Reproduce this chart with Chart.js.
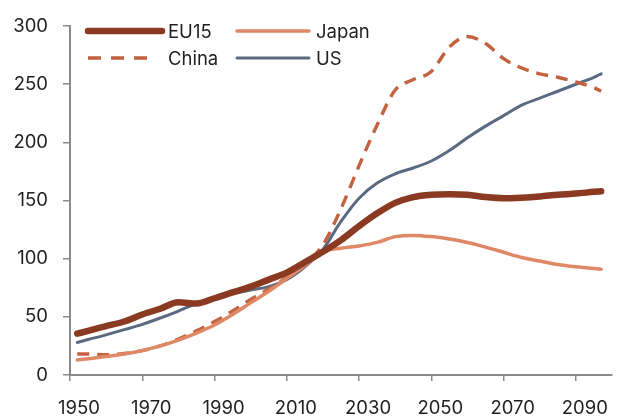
<!DOCTYPE html>
<html>
<head>
<meta charset="utf-8">
<script src="https://cdn.jsdelivr.net/npm/chart.js@4/dist/chart.umd.min.js"></script>
<style>
  html, body { margin: 0; padding: 0; background: #ffffff; }
  #wrap { width: 630px; height: 420px; position: relative; }
</style>
</head>
<body>
<div id="wrap"><canvas id="c" width="630" height="420"></canvas></div>
<script>
const years = [1952, 1955, 1960, 1965, 1970, 1975, 1980, 1985, 1990, 1995, 2000, 2005, 2010, 2015, 2020, 2025, 2030, 2035, 2040, 2045, 2050, 2055, 2060, 2065, 2070, 2075, 2080, 2085, 2090, 2095, 2097];
const eu15  = [35.5, 38, 42, 46, 52, 57, 62.5, 61.5, 66, 71, 76, 82, 88, 97, 106, 116, 128, 139, 148, 153, 155, 155.5, 155, 153, 152, 152.5, 153.5, 155, 156, 157.5, 158];
const japan = [13, 14, 16, 18, 21, 25, 30, 36, 43, 52, 62, 72, 83, 94, 106, 109, 111, 114, 119, 120, 119, 117, 114, 110, 105.5, 101, 98, 95, 93, 91.5, 91];
const china = [18, 18, 17.5, 18.5, 21, 25, 31, 38, 46, 55, 65, 74, 84, 95, 112, 143, 180, 215, 245, 254, 261, 282, 291, 285, 272, 264, 259, 256, 252, 247, 244];
const us    = [28, 30.5, 34.5, 39, 43.5, 49, 55, 61.5, 66, 70, 73, 76, 82, 93, 108, 132, 152, 165, 173, 178, 184, 193, 204, 214, 223, 232, 238, 244, 250, 256, 259];
const seriesNames = ['EU15', 'Japan', 'China', 'US'];
const xTicks = [1950, 1970, 1990, 2010, 2030, 2050, 2070, 2090];
const yTicks = [0, 50, 100, 150, 200, 250, 300];

const pts = arr => years.map((y, i) => ({ x: y, y: arr[i] }));
const FONT = "Inter, 'Open Sans', 'DejaVu Sans', sans-serif";
const AXIS = '#8a8a8a';
const FSIZE = 18.5;

const legendPlugin = {
  id: 'insideLegend',
  afterDraw(chart) {
    const ctx = chart.ctx;
    const slots = [
      { x1: 88, x2: 162, y: 31, tx: 168 },
      { x1: 237, x2: 309, y: 31, tx: 316 },
      { x1: 88, x2: 148, y: 58, tx: 168 },
      { x1: 237, x2: 309, y: 58, tx: 316 }
    ];
    chart.data.datasets.forEach((ds, i) => {
      const s = slots[i];
      ctx.save();
      ctx.strokeStyle = ds.borderColor;
      ctx.lineWidth = ds.borderWidth;
      ctx.lineCap = ds.borderDash ? 'butt' : 'round';
      ctx.setLineDash(ds.borderDash ? [13, 10] : []);
      ctx.beginPath();
      ctx.moveTo(s.x1, s.y);
      ctx.lineTo(s.x2, s.y);
      ctx.stroke();
      ctx.setLineDash([]);
      ctx.fillStyle = '#1f1f1f';
      ctx.font = FSIZE + 'px ' + FONT;
      ctx.textAlign = 'left';
      ctx.textBaseline = 'middle';
      ctx.fillText(ds.label, s.tx, s.y + 1);
      ctx.restore();
    });
  }
};

new Chart(document.getElementById('c'), {
  type: 'line',
  data: {
    datasets: [
      { label: seriesNames[0], data: pts(eu15),  borderColor: '#8b3a22', borderWidth: 6.5, borderCapStyle: 'round' },
      { label: seriesNames[1], data: pts(japan), borderColor: '#df8866', borderWidth: 3.5, borderCapStyle: 'round' },
      { label: seriesNames[2], data: pts(china), borderColor: '#c2623f', borderWidth: 3.4, borderDash: [12, 8] },
      { label: seriesNames[3], data: pts(us),    borderColor: '#5a6a82', borderWidth: 3, borderCapStyle: 'round' }
    ]
  },
  options: {
    responsive: false,
    animation: false,
    devicePixelRatio: 1,
    layout: { padding: { top: 20, right: 18, bottom: 0, left: 0 } },
    elements: { point: { radius: 0 }, line: { cubicInterpolationMode: 'monotone', fill: false } },
    plugins: { legend: { display: false }, tooltip: { enabled: false } },
    scales: {
      x: {
        type: 'linear', min: 1950, max: 2100,
        afterBuildTicks: s => { s.ticks = xTicks.map(v => ({ value: v })); },
        afterFit: s => { s.height = 45; },
        grid: { drawOnChartArea: false, drawTicks: true, tickLength: 6, color: AXIS, lineWidth: 1.5 },
        border: { color: AXIS, width: 2 },
        ticks: { labelOffset: 9, padding: 16, color: '#1f1f1f', font: { family: FONT, size: FSIZE }, maxRotation: 0, autoSkip: false, callback: v => String(v) }
      },
      y: {
        min: 0, max: 300,
        afterBuildTicks: s => { s.ticks = yTicks.map(v => ({ value: v })); },
        afterFit: s => { s.width = 70; },
        grid: { drawOnChartArea: false, drawTicks: true, tickLength: 7, color: AXIS, lineWidth: 1.5 },
        border: { color: AXIS, width: 2 },
        ticks: { padding: 15, color: '#1f1f1f', font: { family: FONT, size: FSIZE }, callback: v => String(v) }
      }
    }
  },
  plugins: [legendPlugin]
});
</script>
</body>
</html>
